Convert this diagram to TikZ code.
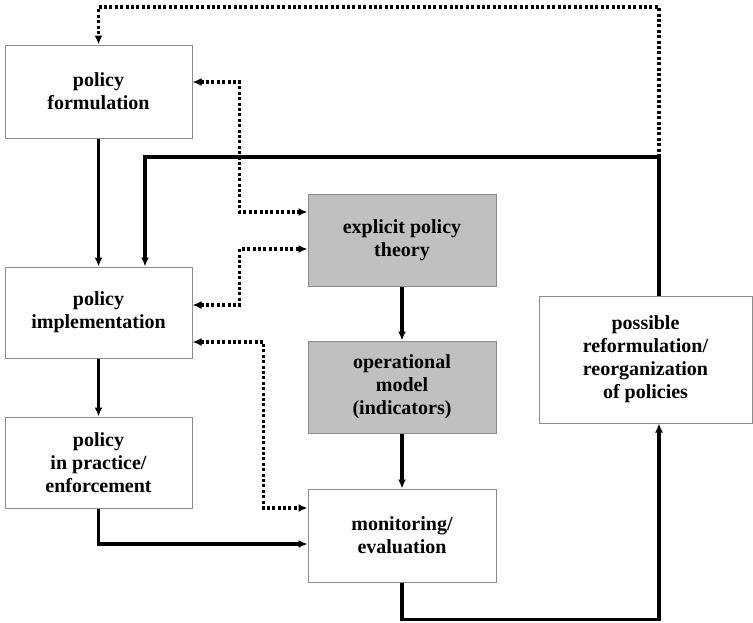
\documentclass[tikz,border=0pt]{standalone}
\usepackage{fontspec}
\setmainfont{Liberation Serif}
\usetikzlibrary{calc,arrows.meta}
\definecolor{boxgray}{RGB}{192,192,192}
\definecolor{edgegray}{RGB}{140,140,140}
\begin{document}
\begin{tikzpicture}[x=1pt,y=-1pt,
  stage/.style={draw=edgegray, line width=1pt, fill=white, align=center,
    font=\fontsize{20}{23}\selectfont\bfseries, inner sep=0pt},
  shaded/.style={stage, fill=boxgray},
  flow/.style={line width=3.2pt, -{Latex[length=9pt,width=8pt]}},
  dotline/.style={line width=3.6pt, dash pattern=on 3pt off 2.4pt},
  dotflow/.style={dotline, -{Latex[length=9pt,width=8pt]}},
  dotboth/.style={dotline, {Latex[length=9pt,width=8pt]}-{Latex[length=9pt,width=8pt]}}]
\useasboundingbox (0,0) rectangle (753,622);

% left column
\node[stage, minimum width=187pt, minimum height=93pt] (form) at (98.5,91.5) {policy\\formulation};
\node[stage, minimum width=187pt, minimum height=91pt] (impl) at (98.5,312.5) {policy\\implementation};
\node[stage, minimum width=187pt, minimum height=91pt] (prac) at (98.5,462.5) {policy\\in practice/\\enforcement};

% middle column
\node[shaded, minimum width=188pt, minimum height=92pt] (theory) at (402,240) {explicit policy\\theory};
\node[shaded, minimum width=188pt, minimum height=92pt] (oper) at (402,387) {operational\\model\\(indicators)};
\node[stage, minimum width=188pt, minimum height=93pt] (mon) at (402,535.5) {monitoring/\\evaluation};

% right column
\node[stage, minimum width=213pt, minimum height=127pt] (reform) at (645.5,359.5) {possible\\reformulation/\\reorganization\\of policies};

% bend points of the feedback loop
\coordinate (fbk) at (659,157);
\coordinate (topR) at (659,7);
\coordinate (kneeImpl) at (145,157);

% main flow
\draw[flow] (form) -- (impl);
\draw[flow] (impl) -- (prac);
\draw[flow] (prac.south) |- ($(mon.west)+(0,8.5)$);
\draw[flow] (theory) -- (oper);
\draw[flow] (oper) -- (mon);
\draw[flow] (mon.south) -- ++(0,37) -| (reform.south -| fbk);

% feedback from reformulation
\draw[flow] (reform.north -| fbk) -- (fbk) -- (kneeImpl) -- (impl.north -| kneeImpl);
\draw[dotflow] (fbk) -- (topR) -| (form.north);

% two-way links to theory and monitoring
\draw[dotboth] ($(form.east)+(0,-9.5)$) -- ++(47,0) |- ($(theory.west)+(0,-28)$);
\draw[dotboth] ($(impl.east)+(0,-7.5)$) -- ++(47,0) |- ($(theory.west)+(0,9)$);
\draw[dotboth] ($(impl.east)+(0,29.5)$) -- ++(71,0) |- ($(mon.west)+(0,-27.5)$);
\end{tikzpicture}
\end{document}
